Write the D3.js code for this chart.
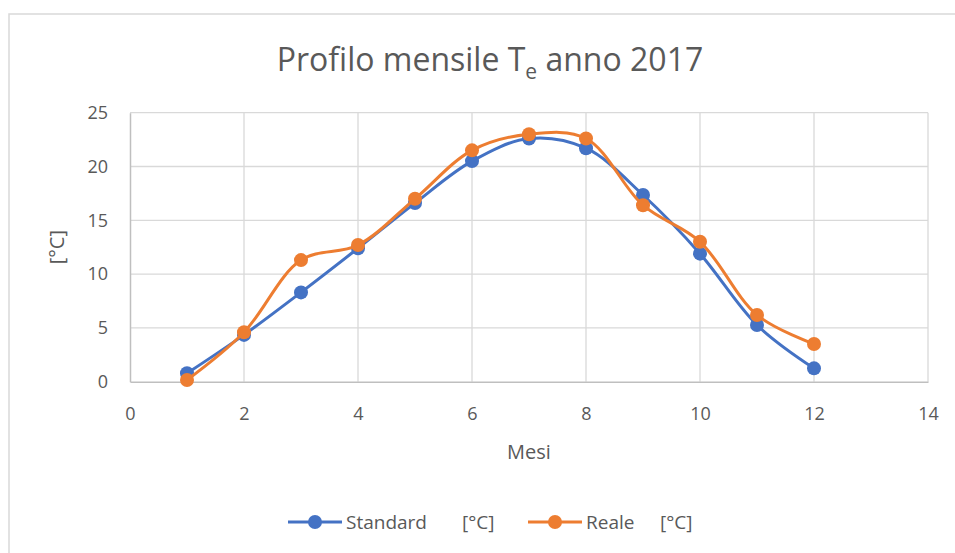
<!DOCTYPE html>
<html><head><meta charset="utf-8">
<script src="https://cdn.jsdelivr.net/npm/d3@7"></script>
<style>
body{margin:0;background:#fff;}
svg{display:block;font-family:"Open Sans",Lato,sans-serif;}
</style></head>
<body><svg id="c" width="955" height="553"></svg>
<script>
const months = [1,2,3,4,5,6,7,8,9,10,11,12];
const standard = [0.78,4.35,8.3,12.4,16.6,20.5,22.6,21.7,17.35,11.9,5.27,1.24];
const reale = [0.16,4.6,11.3,12.7,17.0,21.5,23.0,22.6,16.4,13.0,6.2,3.5];
const xTicks = [0,2,4,6,8,10,12,14];
const yTicks = [0,5,10,15,20,25];
const seriesNames = ["Standard","Reale"];
const unitLabel = "[°C]";
const colors = ["#4472c4","#ed7d31"];
const FONT = "'Open Sans',Lato,sans-serif";

const svg = d3.select("#c");
svg.append("rect").attr("x",9).attr("y",14).attr("width",960).attr("height",560)
  .attr("fill","#fff").attr("stroke","#d9d9d9").attr("stroke-width",1.5);

const x = d3.scaleLinear().domain([0,14]).range([130,928]);
const y = d3.scaleLinear().domain([0,25]).range([381.7,112.7]);

svg.append("g").selectAll("line").data(yTicks.filter(d=>d>0)).join("line")
  .attr("x1",x(0)).attr("x2",x(14)).attr("y1",d=>y(d)).attr("y2",d=>y(d))
  .attr("stroke","#d9d9d9").attr("stroke-width",1.3);
svg.append("g").selectAll("line").data(xTicks.filter(d=>d>0)).join("line")
  .attr("y1",y(0)).attr("y2",y(25)).attr("x1",d=>x(d)).attr("x2",d=>x(d))
  .attr("stroke","#d9d9d9").attr("stroke-width",1.3);

const xAxis = svg.append("g").attr("transform",`translate(0,${y(0)})`)
  .call(d3.axisBottom(x).tickValues(xTicks).tickSize(0));
const yAxis = svg.append("g").attr("transform",`translate(${x(0)},0)`)
  .call(d3.axisLeft(y).tickValues(yTicks).tickSize(0).tickPadding(22));
[xAxis,yAxis].forEach(a=>{
  a.select(".domain").attr("stroke","#bfbfbf").attr("stroke-width",1.5);
  a.selectAll("text").attr("font-size",18).attr("fill","#595959").attr("font-family",FONT);
});
xAxis.selectAll("text").attr("dy","0.35em").attr("y",32);

const t = svg.append("text").attr("x",490).attr("y",71).attr("text-anchor","middle")
  .attr("font-size",32).attr("fill","#595959");
t.append("tspan").text("Profilo mensile T");
t.append("tspan").attr("font-size",21).attr("dy",8).text("e");
t.append("tspan").attr("dy",-8).text(" anno 2017");

svg.append("text").attr("x",x(7)).attr("y",452).attr("dy","0.35em").attr("text-anchor","middle")
  .attr("font-size",20).attr("fill","#595959").text("Mesi");
svg.append("text").attr("transform",`translate(57,${(y(0)+y(25))/2}) rotate(-90)`)
  .attr("dy","0.35em").attr("text-anchor","middle").attr("font-size",20).attr("fill","#595959").text("[°C]");

const data = [standard, reale];
const line = d3.line().x((d,i)=>x(months[i])).y(d=>y(d)).curve(d3.curveCatmullRom.alpha(0.5));
data.forEach((s,k)=>{
  svg.append("path").datum(s).attr("d",line).attr("fill","none")
    .attr("stroke",colors[k]).attr("stroke-width",3).attr("stroke-linejoin","round");
  svg.append("g").selectAll("circle").data(s).join("circle")
    .attr("cx",(d,i)=>x(months[i])).attr("cy",d=>y(d)).attr("r",7).attr("fill",colors[k]);
});

const legX = [288,528];
const unitX = [174,132];
seriesNames.forEach((n,k)=>{
  const g = svg.append("g").attr("transform",`translate(${legX[k]},522)`);
  g.append("line").attr("x1",0).attr("x2",54).attr("stroke",colors[k]).attr("stroke-width",3);
  g.append("circle").attr("cx",27).attr("r",7).attr("fill",colors[k]);
  g.append("text").attr("x",58).attr("dy","0.35em").attr("font-size",19).attr("fill","#595959").text(n);
  g.append("text").attr("x",unitX[k]).attr("dy","0.35em").attr("font-size",19).attr("fill","#595959").text(unitLabel);
});
</script></body></html>
